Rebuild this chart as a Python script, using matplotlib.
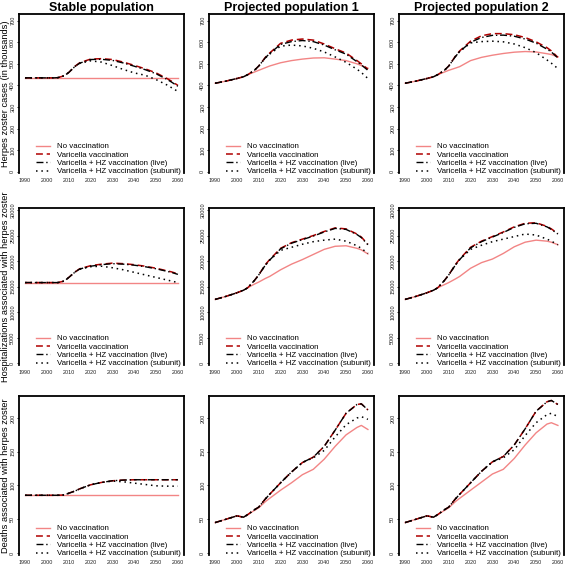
import numpy as np
import matplotlib
matplotlib.use('Agg')
import matplotlib.pyplot as plt

plt.rcParams['font.family'] = ['Liberation Sans', 'DejaVu Sans']

yrs = [1990, 1995, 2000, 2003, 2005, 2008, 2010, 2013, 2015, 2020,
       2025, 2030, 2035, 2040, 2045, 2050, 2055, 2057, 2060]

# herpes zoster cases (thousands)
c_st_none = [435, 435, 435, 435, 435, 435, 435, 435, 435, 435, 435, 435, 435, 435, 435, 435, 435, 435, 435]
c_st_var = [435, 435, 435, 435, 436, 445, 460, 490, 505, 522, 524, 520, 508, 493, 477, 458, 432, 420, 400]
c_st_live = [435, 435, 435, 435, 436, 445, 460, 489, 503, 520, 521, 516, 504, 489, 473, 454, 428, 416, 396]
c_st_sub = [435, 435, 435, 435, 436, 445, 460, 489, 502, 514, 508, 492, 474, 458, 447, 427, 402, 390, 372]

c_p1_none = [410, 420, 432, 440, 450, 462, 470, 482, 490, 505, 515, 522, 527, 528, 522, 515, 500, 492, 480]
c_p1_var = [410, 420, 432, 440, 450, 470, 490, 530, 550, 595, 610, 615, 610, 592, 570, 550, 515, 500, 475]
c_p1_live = [410, 420, 432, 440, 450, 470, 490, 528, 548, 590, 603, 608, 603, 587, 565, 545, 510, 495, 470]
c_p1_sub = [410, 420, 432, 440, 450, 470, 490, 527, 545, 582, 587, 583, 572, 555, 532, 507, 475, 460, 432]

c_p2_none = [410, 420, 432, 440, 450, 462, 470, 480, 487, 515, 530, 540, 548, 554, 557, 555, 547, 543, 532]
c_p2_var = [410, 420, 432, 440, 450, 470, 490, 535, 560, 605, 630, 640, 640, 635, 622, 602, 575, 560, 530]
c_p2_live = [410, 420, 432, 440, 450, 470, 490, 533, 557, 600, 622, 632, 633, 628, 615, 596, 568, 555, 527]
c_p2_sub = [410, 420, 432, 440, 450, 470, 490, 533, 557, 597, 603, 605, 602, 592, 575, 552, 518, 503, 478]

# hospitalizations
h_st_none = [15800, 15800, 15800, 15800, 15800, 15800, 15800, 15800, 15800, 15800, 15800, 15800, 15800, 15800, 15800, 15800, 15800, 15800, 15800]
h_st_var = [15800, 15800, 15800, 15800, 15800, 16100, 16800, 17900, 18500, 19100, 19400, 19600, 19500, 19300, 19000, 18600, 18100, 17900, 17500]
h_st_live = [15800, 15800, 15800, 15800, 15800, 16100, 16800, 17900, 18450, 19000, 19300, 19500, 19400, 19200, 18900, 18500, 18000, 17800, 17400]
h_st_sub = [15800, 15800, 15800, 15800, 15800, 16100, 16800, 17900, 18400, 18900, 19000, 18700, 18300, 17800, 17300, 16800, 16300, 16100, 15800]

h_p1_none = [12500, 13100, 13800, 14300, 14800, 15500, 15900, 16600, 17000, 18300, 19400, 20300, 21300, 22300, 22900, 23000, 22500, 22200, 21400]
h_p1_var = [12500, 13100, 13800, 14300, 14800, 16200, 17300, 19300, 20300, 22500, 23600, 24300, 25000, 25800, 26500, 26300, 25300, 24700, 23300]
h_p1_live = [12500, 13100, 13800, 14300, 14800, 16200, 17300, 19200, 20200, 22400, 23500, 24200, 24900, 25700, 26400, 26200, 25200, 24600, 23200]
h_p1_sub = [12500, 13100, 13800, 14300, 14800, 16200, 17300, 19200, 20200, 22100, 22700, 23300, 23800, 24100, 24300, 23900, 23000, 22500, 21500]

h_p2_none = [12500, 13100, 13800, 14300, 14800, 15400, 15800, 16500, 17000, 18600, 19700, 20400, 21500, 22800, 23700, 24100, 23900, 23700, 23200]
h_p2_var = [12500, 13100, 13800, 14300, 14800, 16200, 17300, 19300, 20400, 22700, 23900, 24800, 25700, 26700, 27400, 27500, 26800, 26300, 25400]
h_p2_live = [12500, 13100, 13800, 14300, 14800, 16200, 17300, 19200, 20300, 22600, 23800, 24700, 25600, 26600, 27300, 27400, 26700, 26200, 25300]
h_p2_sub = [12500, 13100, 13800, 14300, 14800, 16200, 17300, 19200, 20300, 22300, 23100, 23800, 24300, 24800, 25300, 25100, 24300, 23900, 23200]

# deaths
d_st_none = [85.5, 85.5, 85.5, 85.5, 85.5, 85.5, 85.5, 85.5, 85.5, 85.5, 85.5, 85.5, 85.5, 85.5, 85.5, 85.5, 85.5, 85.5, 85.5]
d_st_var = [85.5, 85.5, 85.5, 85.5, 85.5, 86, 88.5, 92, 95, 101, 104.5, 107, 108, 108.5, 108.5, 108.5, 108.5, 108.5, 108.5]
d_st_live = [85.5, 85.5, 85.5, 85.5, 85.5, 86, 88.5, 92, 95, 101, 104.5, 107, 108, 108.5, 108.5, 108.5, 108.5, 108.5, 108.5]
d_st_sub = [85.5, 85.5, 85.5, 85.5, 85.5, 86, 88.5, 92, 95, 101, 104.5, 106.5, 105.5, 103.5, 101.5, 99.5, 99, 99, 99]

d_p1_none = [45, 50, 55, 53, 57, 63, 67, 76, 81, 93, 104, 116, 124, 139, 158, 175, 186, 189, 183]
d_p1_var = [45, 50, 55, 53, 57, 64, 68, 80, 87, 104, 120, 134, 142, 158, 182, 207, 220, 221, 212]
d_p1_live = [45, 50, 55, 53, 57, 64, 68, 80, 87, 104, 120, 134, 142, 158, 182, 207, 220, 221, 212]
d_p1_sub = [45, 50, 55, 53, 57, 64, 68, 80, 87, 104, 120, 134, 141, 152, 172, 190, 200, 202, 198]

d_p2_none = [45, 50, 55, 53, 57, 63, 67, 76, 81, 93, 105, 117, 124, 140, 160, 178, 191, 193, 189]
d_p2_var = [45, 50, 55, 53, 57, 64, 68, 80, 87, 104, 121, 135, 143, 160, 184, 210, 224, 226, 220]
d_p2_live = [45, 50, 55, 53, 57, 64, 68, 80, 87, 104, 121, 135, 143, 160, 184, 210, 224, 226, 220]
d_p2_sub = [45, 50, 55, 53, 57, 64, 68, 80, 87, 104, 121, 135, 141, 153, 174, 193, 205, 207, 202]

titles = ['Stable population', 'Projected population 1', 'Projected population 2']
ylabels = ['Herpes zoster cases (in thousands)',
           'Hospitalizations associated with herpes zoster',
           'Deaths associated with herpes zoster']
leg_labels = ['No vaccination', 'Varicella vaccination',
              'Varicella + HZ vaccination (live)', 'Varicella + HZ vaccination (subunit)']
xticks = [1990, 2000, 2010, 2020, 2030, 2040, 2050, 2060]

panels = [
    [(c_st_none, c_st_var, c_st_live, c_st_sub),
     (c_p1_none, c_p1_var, c_p1_live, c_p1_sub),
     (c_p2_none, c_p2_var, c_p2_live, c_p2_sub)],
    [(h_st_none, h_st_var, h_st_live, h_st_sub),
     (h_p1_none, h_p1_var, h_p1_live, h_p1_sub),
     (h_p2_none, h_p2_var, h_p2_live, h_p2_sub)],
    [(d_st_none, d_st_var, d_st_live, d_st_sub),
     (d_p1_none, d_p1_var, d_p1_live, d_p1_sub),
     (d_p2_none, d_p2_var, d_p2_live, d_p2_sub)],
]

# layout in pixels
W = 567.
col_left = [19, 209, 399]
col_w = 165
row_top = [14, 208, 396]
row_bot = [173, 365, 555]
ylims = [(-6, 731), (-330, 30390), (-3, 232.6)]
yticks = [np.arange(0, 701, 100), np.arange(0, 30001, 5000), np.arange(0, 201, 50)]

fig = plt.figure(figsize=(5.67, 5.67), dpi=100)

for r in range(3):
    for c in range(3):
        ax = fig.add_axes([col_left[c] / W, 1 - row_bot[r] / W,
                           col_w / W, (row_bot[r] - row_top[r]) / W])
        none, var, live, sub = panels[r][c]
        ax.plot(yrs, none, color='#F28585', lw=1.0, label=leg_labels[0])
        ax.plot(yrs, var, color='#B00000', lw=1.1, dashes=(4.5, 2.5), label=leg_labels[1])
        ax.plot(yrs, live, color='black', lw=1.0, dashes=(5, 2, 1, 2), label=leg_labels[2])
        ax.plot(yrs, sub, color='black', lw=1.1, dashes=(1, 2.5), label=leg_labels[3])

        ax.set_xlim(1987.2, 2062.8)
        ax.set_ylim(*ylims[r])
        ax.set_xticks(xticks)
        ax.set_yticks(yticks[r])
        ax.tick_params(axis='x', length=0, pad=3.5, labelsize=3.9, labelcolor='#222222')
        ax.tick_params(axis='y', length=1.5, width=0.6, pad=1.2, labelsize=4,
                       labelcolor='#222222', labelrotation=90)
        for lab in ax.get_yticklabels():
            lab.set_va('center')
        for side in ['left', 'top', 'right']:
            ax.spines[side].set_linewidth(1.3)
        ax.spines['bottom'].set_visible(False)

        ax.legend(loc='lower left', bbox_to_anchor=(0.1, -0.015), frameon=False,
                  fontsize=5.7, handlelength=1.8, handletextpad=0.9,
                  labelspacing=0.1, borderpad=0, borderaxespad=0)

        if r == 0:
            ax.set_title(titles[c], fontsize=9, fontweight='bold', pad=2)
        if c == 0:
            ax.set_ylabel(ylabels[r], fontsize=6.7)
            ax.yaxis.set_label_coords(-0.052, 0.5)

fig.savefig('out.png', dpi=100)
